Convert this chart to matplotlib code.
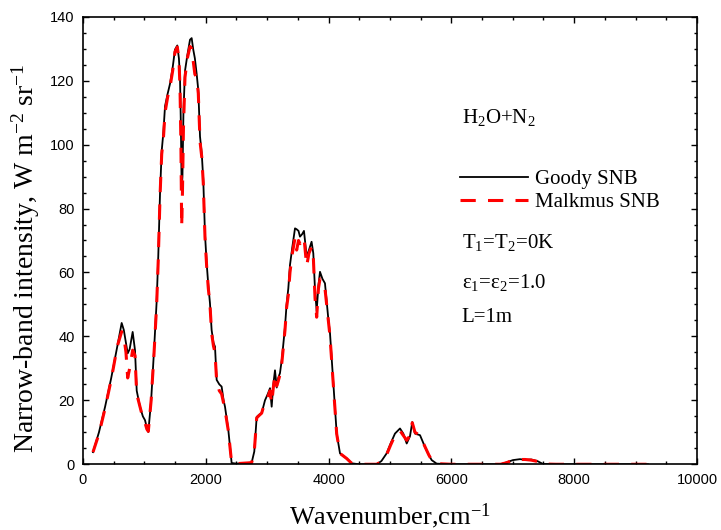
"""Narrow-band intensity spectra of H2O+N2: Goody vs Malkmus statistical narrow-band models."""

import matplotlib

matplotlib.use("Agg")
import matplotlib.pyplot as plt
from matplotlib.ticker import MultipleLocator

# wavenumber (cm^-1) and narrow-band intensity (W m^-2 sr^-1)
wavenumber = [
    163, 260, 360, 460, 560, 630, 665, 700, 728, 760, 809, 847, 875, 928, 975,
    1010, 1040, 1064, 1110, 1155, 1200, 1226, 1255, 1282, 1310, 1336, 1380, 1417,
    1460, 1498, 1536, 1562, 1580, 1595, 1607, 1620, 1636, 1661, 1700, 1743, 1770,
    1796, 1822, 1852, 1878, 1906, 1935, 1959, 1987, 2014, 2041, 2068, 2095, 2125,
    2150, 2177, 2220, 2258, 2290, 2313, 2367, 2421, 2500, 2747, 2790, 2829, 2870,
    2910, 2964, 3010, 3046, 3073, 3100, 3127, 3155, 3180, 3208, 3240, 3290, 3316,
    3344, 3371, 3410, 3453, 3480, 3510, 3534, 3570, 3599, 3643, 3680, 3723, 3751,
    3779, 3806, 3835, 3860, 3900, 3941, 3995, 4023, 4077, 4132, 4186, 4295, 4376,
    4500, 4782, 4860, 4945, 5010, 5081, 5163, 5217, 5272, 5326, 5363, 5407, 5489,
    5570, 5630, 5679, 5760, 6000, 6800, 6900, 7000, 7117, 7200, 7300, 7400, 7492,
    7700, 9200,
]
goody_snb = [
    3.8, 10, 18, 27, 37, 44.2, 42, 38, 34.7, 36, 41.4, 35.7, 23, 18, 15,
    13.8, 11.5, 10.1, 20, 35, 51, 65, 85, 98, 104, 112, 116, 119,
    124, 129.7, 131, 127, 121, 105, 86, 90, 110, 123, 128, 132.8, 133.3,
    129.7, 127, 122, 117, 102.5, 97, 89, 72, 63, 56, 50.4, 42, 38,
    36.8, 26.4, 25, 24.3, 20, 18, 10.7, 0.4, 0.2, 0.5, 4, 14.8, 15.5,
    16, 20, 22, 23.8, 18, 25, 29.4, 24, 27, 28.5, 33, 43, 50,
    55, 62.3, 68, 73.8, 73.5, 73, 71.2, 72, 73, 65, 67, 69.6, 66,
    54.5, 48, 56, 60.2, 58, 56.6, 45.6, 41, 25.3, 9.6, 3.4, 1.8, 0.3,
    0, 0, 1, 3.4, 6.5, 9.6, 11.2, 9.6, 6.5, 8.8, 13.2, 9.6, 9.1,
    5.4, 3, 1.3, 0.2, 0, 0, 0.6, 1.3, 1.6, 1.4, 1.5, 1.0, 0.1,
    0, 0,
]
malkmus_snb = [
    3.8, 9.5, 17.5, 26.5, 37, 41.5, 40, 35, 27, 30, 35.7, 34, 22, 18, 14.5,
    13, 11, 10.3, 20, 34, 50, 64, 84, 97, 102, 110, 115, 118,
    123, 129, 130.5, 127, 118, 100, 74.3, 85, 105, 121, 127, 130.7, 130,
    126, 122, 121, 116, 101, 96, 88, 71, 62, 55, 50, 41, 37,
    35, 26, 23, 22, 19, 17, 10.5, 0.4, 0.2, 0.5, 4, 14.5, 15.3,
    16, 19.5, 21, 23, 19, 24, 28, 24.5, 26, 28, 32, 42, 49,
    53, 60, 66, 70.8, 67, 70, 69, 70, 71, 62, 66, 68, 65,
    52, 46, 55, 58, 57, 55, 45, 40, 25, 9.5, 3.4, 1.8, 0.3,
    0, 0, 0.8, 3, 6, 9, 10.5, 9, 7.5, 9, 13, 10, 9,
    5.5, 3, 1.3, 0.2, 0, 0, 0.5, 1.3, 1.5, 1.5, 1.3, 0.9, 0.1,
    0, 0,
]

plt.rcParams["font.family"] = ["Liberation Serif", "DejaVu Serif"]
plt.rcParams["mathtext.fontset"] = "custom"
plt.rcParams["mathtext.rm"] = "Liberation Serif"
plt.rcParams["mathtext.it"] = "Liberation Serif:italic"

fig = plt.figure(figsize=(7.21, 5.30), dpi=100)
ax = fig.add_axes([0.1151, 0.124, 0.8516, 0.8445])

ax.plot(wavenumber, goody_snb, color="black", lw=1.3, label="Goody SNB")
ax.plot(wavenumber, malkmus_snb, color="red", lw=2.2, dashes=(5, 4), label="Malkmus SNB")

ax.set_xlim(0, 10000)
ax.set_ylim(0, 140)
ax.xaxis.set_major_locator(MultipleLocator(2000))
ax.xaxis.set_minor_locator(MultipleLocator(500))
ax.yaxis.set_major_locator(MultipleLocator(20))
ax.yaxis.set_minor_locator(MultipleLocator(5))
ax.tick_params(which="both", direction="in", top=True, right=True, width=1.0, pad=6)
ax.tick_params(which="major", length=4.5)
ax.tick_params(which="minor", length=2.5)
for lbl in ax.get_xticklabels() + ax.get_yticklabels():
    lbl.set_family("Liberation Sans")
    lbl.set_fontsize(10.5)
for sp in ax.spines.values():
    sp.set_linewidth(1.2)

ax.set_xlabel(r"Wavenumber,cm$^{-1}$", fontsize=19, labelpad=10.5)
ax.set_ylabel(r"Narrow-band intensity, W m$^{-2}$ sr$^{-1}$", fontsize=20)
ax.yaxis.set_label_coords(-0.067, 0.46)

ax.legend(loc="upper left", bbox_to_anchor=(0.6, 0.677), frameon=False, fontsize=15,
          handlelength=3.3, handletextpad=0.3, labelspacing=0.15, borderaxespad=0)

txt = dict(transform=ax.transAxes, fontsize=15, va="baseline", ha="left")
ax.text(0.617, 0.7625, r"H$_2$O+N$_2$", **txt)
ax.text(0.617, 0.483, r"T$_1$=T$_2$=0K", **txt)
ax.text(0.617, 0.394, r"ε$_1$=ε$_2$=1.0", **txt)
ax.text(0.617, 0.319, "L=1m", **txt)

fig.savefig("out.png", dpi=100)
